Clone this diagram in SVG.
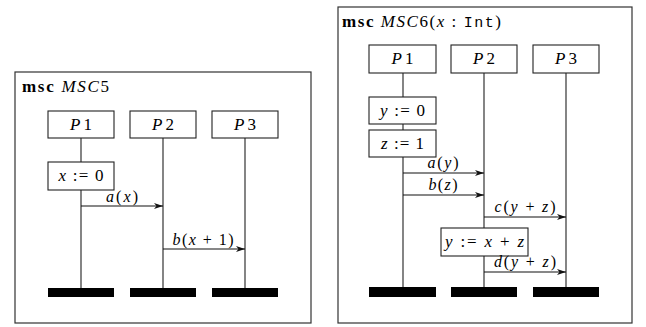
<svg xmlns="http://www.w3.org/2000/svg" width="646" height="327" viewBox="0 0 646 327" font-family="'Liberation Serif', 'DejaVu Serif', 'Times New Roman', serif">
  <style>
    .frame { fill: #fff; stroke: #333; stroke-width: 1.2; }
    .box { fill: #fff; stroke: #222; stroke-width: 1.1; }
    .life { stroke: #333; stroke-width: 1.2; fill: none; }
    .msg { stroke: #111; stroke-width: 1.1; fill: none; marker-end: url(#head); }
    .end { fill: #000; }
    text { font-family: 'Liberation Serif', 'DejaVu Serif', 'Times New Roman', serif; font-size: 17px; fill: #000; }
    .lbl { text-anchor: middle; }
    .ml { font-size: 16px; }
    .it { font-style: italic; }
    .bf { font-weight: bold; }
    .tt { font-family: 'Liberation Mono', 'DejaVu Sans Mono', monospace; font-size: 15px; }
  </style>
  <defs>
    <marker id="head" markerWidth="10" markerHeight="8" refX="9" refY="4" orient="auto" markerUnits="userSpaceOnUse">
      <path d="M0,1 L9,4 L0,7 L2.5,4 Z" fill="#111"/>
    </marker>
  </defs>

  <!-- MSC5 -->
  <g id="msc5">
    <rect class="frame" x="15" y="72" width="296" height="251"/>
    <text x="22" y="92" textLength="87" lengthAdjust="spacing"><tspan class="bf">msc</tspan> <tspan class="it">MSC</tspan>5</text>
  </g>
  <g id="msc5-lifelines">
    <line class="life" x1="81" y1="138" x2="81" y2="289"/>
    <line class="life" x1="163" y1="138" x2="163" y2="289"/>
    <line class="life" x1="245" y1="138" x2="245" y2="289"/>
  </g>
  <g id="msc5-P1"><rect class="box" x="48" y="111" width="66" height="27"/><text class="lbl" x="81" y="130" textLength="22" lengthAdjust="spacing"><tspan class="it">P</tspan>1</text></g>
  <g id="msc5-P2"><rect class="box" x="130" y="111" width="66" height="27"/><text class="lbl" x="163" y="130" textLength="22" lengthAdjust="spacing"><tspan class="it">P</tspan>2</text></g>
  <g id="msc5-P3"><rect class="box" x="212" y="111" width="66" height="27"/><text class="lbl" x="245" y="130" textLength="22" lengthAdjust="spacing"><tspan class="it">P</tspan>3</text></g>
  <g id="msc5-act1"><rect class="box" x="48" y="162" width="66" height="28"/><text class="lbl" x="81" y="181" textLength="45" lengthAdjust="spacing"><tspan class="it">x</tspan> := 0</text></g>
  <g id="msc5-ends">
    <rect class="end" x="48" y="288" width="66" height="9"/>
    <rect class="end" x="130" y="288" width="66" height="9"/>
    <rect class="end" x="212" y="288" width="66" height="9"/>
  </g>
  <g id="msc5-messages">
    <line class="msg" x1="81" y1="206" x2="163" y2="206"/>
    <text class="lbl ml" x="122" y="202" textLength="32" lengthAdjust="spacing"><tspan class="it">a</tspan>(<tspan class="it">x</tspan>)</text>
    <line class="msg" x1="163" y1="249" x2="245" y2="249"/>
    <text class="lbl ml" x="203" y="245" textLength="61" lengthAdjust="spacing"><tspan class="it">b</tspan>(<tspan class="it">x</tspan> + 1)</text>
  </g>

  <!-- MSC6 -->
  <g id="msc6">
    <rect class="frame" x="338" y="7" width="294" height="316"/>
    <text x="342" y="27" textLength="159" lengthAdjust="spacing"><tspan class="bf">msc</tspan> <tspan class="it">MSC</tspan>6(<tspan class="it">x</tspan> : <tspan class="tt">Int</tspan>)</text>
  </g>
  <g id="msc6-lifelines">
    <line class="life" x1="403" y1="73" x2="403" y2="288"/>
    <line class="life" x1="484" y1="73" x2="484" y2="288"/>
    <line class="life" x1="566" y1="73" x2="566" y2="288"/>
  </g>
  <g id="msc6-P1"><rect class="box" x="369" y="45" width="67" height="28"/><text class="lbl" x="402.5" y="64" textLength="22" lengthAdjust="spacing"><tspan class="it">P</tspan>1</text></g>
  <g id="msc6-P2"><rect class="box" x="451" y="45" width="66" height="28"/><text class="lbl" x="484" y="64" textLength="22" lengthAdjust="spacing"><tspan class="it">P</tspan>2</text></g>
  <g id="msc6-P3"><rect class="box" x="533" y="45" width="66" height="28"/><text class="lbl" x="566" y="64" textLength="22" lengthAdjust="spacing"><tspan class="it">P</tspan>3</text></g>
  <g id="msc6-act1"><rect class="box" x="369" y="97" width="67" height="27"/><text class="lbl" x="402.5" y="116" textLength="45" lengthAdjust="spacing"><tspan class="it">y</tspan> := 0</text></g>
  <g id="msc6-act2"><rect class="box" x="369" y="130" width="67" height="27"/><text class="lbl" x="402.5" y="149" textLength="43" lengthAdjust="spacing"><tspan class="it">z</tspan> := 1</text></g>
  <g id="msc6-act3"><rect class="box" x="441" y="228" width="87" height="28"/><text class="lbl" x="484.5" y="247" textLength="79" lengthAdjust="spacing"><tspan class="it">y</tspan> := <tspan class="it">x</tspan> + <tspan class="it">z</tspan></text></g>
  <g id="msc6-ends">
    <rect class="end" x="369" y="287" width="67" height="10"/>
    <rect class="end" x="451" y="287" width="66" height="10"/>
    <rect class="end" x="533" y="287" width="66" height="10"/>
  </g>
  <g id="msc6-messages">
    <line class="msg" x1="403" y1="173" x2="484" y2="173"/>
    <text class="lbl ml" x="443" y="168" textLength="31" lengthAdjust="spacing"><tspan class="it">a</tspan>(<tspan class="it">y</tspan>)</text>
    <line class="msg" x1="403" y1="195" x2="484" y2="195"/>
    <text class="lbl ml" x="443" y="190" textLength="29" lengthAdjust="spacing"><tspan class="it">b</tspan>(<tspan class="it">z</tspan>)</text>
    <line class="msg" x1="484" y1="217" x2="566" y2="217"/>
    <text class="lbl ml" x="525" y="212" textLength="61" lengthAdjust="spacing"><tspan class="it">c</tspan>(<tspan class="it">y</tspan> + <tspan class="it">z</tspan>)</text>
    <line class="msg" x1="484" y1="272" x2="566" y2="272"/>
    <text class="lbl ml" x="525" y="267" textLength="62" lengthAdjust="spacing"><tspan class="it">d</tspan>(<tspan class="it">y</tspan> + <tspan class="it">z</tspan>)</text>
  </g>
</svg>
